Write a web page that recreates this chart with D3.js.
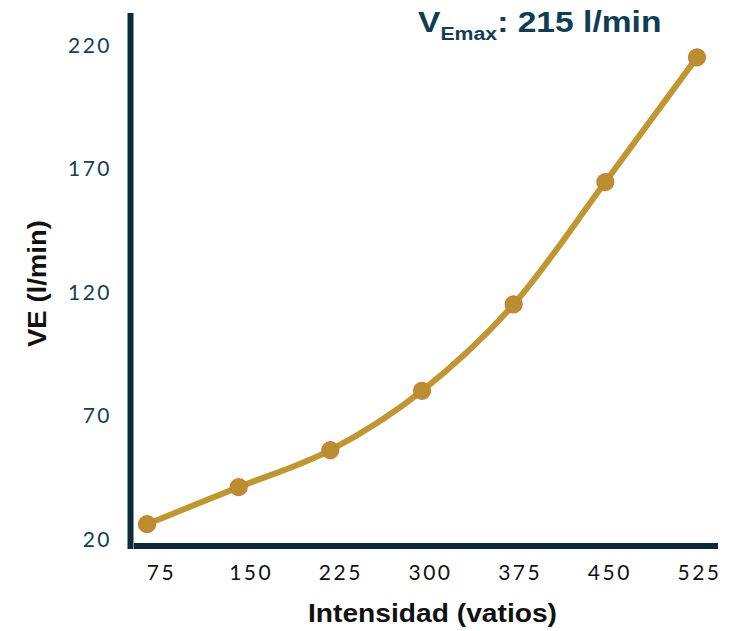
<!DOCTYPE html>
<html><head><meta charset="utf-8">
<script src="https://cdn.jsdelivr.net/npm/d3@7/dist/d3.min.js"></script>
<style>body{margin:0;background:#fff}svg{display:block}</style>
</head><body>
<svg id="c" width="734" height="631"></svg>
<script>
const categories = ["75","150","225","300","375","450","525"];
const values = [26, 41, 56, 80, 115, 164.5, 215];
const yTicks = [20, 70, 120, 170, 220];

const svg = d3.select("#c");
const x = d3.scalePoint().domain(categories).range([147, 697]);
const xLab = d3.scalePoint().domain(categories).range([161, 699]);
const y = d3.scaleLinear().domain([20, 220]).range([539, 45]);

// axes lines
svg.append("line").attr("x1",130.5).attr("x2",130.5).attr("y1",13).attr("y2",549)
  .attr("stroke","#0b2a38").attr("stroke-width",6);
svg.append("line").attr("x1",134).attr("x2",718).attr("y1",546).attr("y2",546)
  .attr("stroke","#0b2a38").attr("stroke-width",6);

const tickFont = "Lato, 'DejaVu Sans', sans-serif";
// y tick labels
const yAxis = d3.axisLeft(y).tickValues(yTicks).tickSize(0).tickPadding(0);
const gy = svg.append("g").attr("transform","translate(112,0)").call(yAxis);
gy.select(".domain").remove();
gy.selectAll("text").attr("font-family",tickFont)
  .attr("font-size",21).attr("letter-spacing","2.5px").attr("fill","#123f5a").attr("dy","0.35em");

// x tick labels
const xAxis = d3.axisBottom(xLab).tickSize(0).tickPadding(0);
const gx = svg.append("g").attr("transform","translate(0,565)").call(xAxis);
gx.select(".domain").remove();
gx.selectAll("text").attr("font-family",tickFont)
  .attr("font-size",21).attr("letter-spacing","2.5px").attr("fill","#111").attr("dy","0.71em");

// line
const line = d3.line().x((d,i)=>x(categories[i])).y(d=>y(d)).curve(d3.curveMonotoneX);
svg.append("path").datum(values).attr("d",line).attr("fill","none")
  .attr("stroke","#c0962f").attr("stroke-width",6);
svg.selectAll("circle.pt").data(values).enter().append("circle").attr("class","pt")
  .attr("cx",(d,i)=>x(categories[i])).attr("cy",d=>y(d)).attr("r",8.5)
  .attr("fill","#b98f2d").attr("stroke","#d07a3a").attr("stroke-width",1.2);

// axis titles
svg.append("text").attr("x",308).attr("y",622)
  .attr("textLength",249).attr("lengthAdjust","spacingAndGlyphs")
  .attr("font-family","'Liberation Sans', Arial, sans-serif").attr("font-weight","bold")
  .attr("font-size",25).attr("fill","#111").text("Intensidad (vatios)");
svg.append("text").attr("transform","translate(46,347) rotate(-90)")
  .attr("textLength",127).attr("lengthAdjust","spacingAndGlyphs")
  .attr("font-family","'Liberation Sans', Arial, sans-serif").attr("font-weight","bold")
  .attr("font-size",25).attr("fill","#111").text("VE (l/min)");

// title
const t = svg.append("text").attr("transform","translate(418,32) scale(1.12,1)")
  .attr("font-family","'Liberation Sans', Arial, sans-serif").attr("font-weight","bold")
  .attr("font-size",30).attr("fill","#0f3d56");
t.append("tspan").text("V");
t.append("tspan").attr("font-size",19).attr("dy",8).text("Emax");
t.append("tspan").attr("dy",-8).text(": 215 l/min");
</script>
</body></html>
